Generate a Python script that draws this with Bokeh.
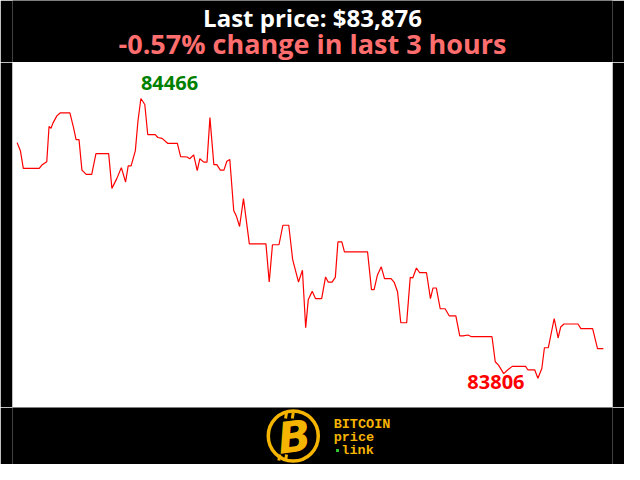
from bokeh.plotting import figure
from bokeh.layouts import column
from bokeh.models import Range1d, ColumnDataSource
from bokeh.core.properties import value
from bokeh.embed import file_html
from bokeh.resources import INLINE

# ---- data (minutes since start, BTC price in USD) ----
minutes = [0.0, 1.0, 1.9, 6.8, 7.6, 9.1, 9.8, 10.4, 11.0, 12.2, 13.2, 16.2, 17.3, 18.1, 19.0,
           19.9, 21.2, 22.9, 24.2, 28.1, 29.1, 30.6, 32.0, 33.3, 34.1, 35.0, 36.3, 37.1, 38.0,
           39.2, 40.1, 42.4, 43.2, 44.5, 46.3, 49.2, 50.2, 52.2, 53.0, 54.2, 55.3, 56.1, 57.3,
           58.3, 59.2, 60.4, 61.3, 62.4, 63.5, 64.4, 65.3, 66.5, 67.3, 68.3, 69.5, 71.3, 76.4,
           77.4, 78.4, 80.4, 81.6, 83.4, 84.6, 86.4, 87.6, 88.6, 89.4, 90.6, 91.6, 93.5, 94.7,
           95.5, 96.7, 97.7, 98.5, 99.7, 100.5, 107.6, 108.8, 109.6, 110.6, 111.8, 112.8, 114.8,
           115.8, 116.8, 117.8, 119.6, 120.7, 121.5, 122.6, 123.6, 125.7, 126.9, 127.7, 128.7,
           129.9, 131.4, 132.7, 134.7, 135.9, 136.9, 138.4, 139.5, 145.8, 146.8, 147.8, 149.4,
           150.5, 152.0, 156.1, 156.8, 158.9, 159.9, 161.1, 161.9, 163.1, 164.9, 166.1, 166.9,
           167.9, 172.2, 173.1, 176.7, 178.2, 180.0]
prices = [84362, 84343, 84301, 84301, 84309, 84317, 84400, 84396, 84408, 84425, 84432, 84432,
          84398, 84369, 84369, 84297, 84287, 84287, 84336, 84336, 84254, 84277, 84303, 84269,
          84307, 84307, 84343, 84413, 84466, 84452, 84381, 84381, 84374, 84372, 84360, 84360,
          84329, 84328, 84324, 84333, 84296, 84324, 84316, 84316, 84421, 84310, 84310, 84297,
          84297, 84318, 84322, 84202, 84189, 84164, 84230, 84123, 84123, 84033, 84121, 84121,
          84167, 84167, 84086, 84033, 84061, 83925, 83992, 84011, 83994, 83994, 84045, 84033,
          84033, 84044, 84128, 84128, 84104, 84104, 84015, 84015, 84049, 84069, 84041, 84041,
          84032, 84010, 83937, 83937, 84044, 84043, 84066, 84055, 84055, 83994, 84019, 84019,
          83970, 83970, 83953, 83953, 83906, 83906, 83908, 83904, 83904, 83845, 83837, 83817,
          83825, 83834, 83834, 83826, 83826, 83806, 83829, 83878, 83878, 83947, 83901, 83927,
          83934, 83934, 83923, 83923, 83876, 83876]
last_price_text = "Last price: $83,876"
change_text = "-0.57% change in last 3 hours"
max_label = "84466"
min_label = "83806"
logo_lines = ["BITCOIN", "price", "link"]

W = 624
H_TOP, H_MAIN, H_BOT = 62, 345, 57
YELLOW = "#f5b400"


def blank(h):
    f = figure(width=W, height=h, output_backend="svg", toolbar_location=None,
               x_axis_type=None, y_axis_type=None,
               x_range=Range1d(0, W), y_range=Range1d(h, 0),
               min_border=0, outline_line_color=None,
               background_fill_color="black", border_fill_color="black")
    f.grid.visible = False
    return f

# ---- header ----
top = blank(H_TOP)
top.text(x=[W / 2], y=[17], text=[last_price_text], text_align="center",
         text_baseline="alphabetic", text_color="white", text_font=value("Open Sans"),
         text_font_style="bold", text_font_size="24px")
top.text(x=[W / 2], y=[43], text=[change_text], text_align="center",
         text_baseline="alphabetic", text_color="#ff6e6e", text_font=value("Open Sans"),
         text_font_style="bold", text_font_size="27px")

# ---- main chart ----
p = figure(width=W, height=H_MAIN, output_backend="svg", toolbar_location=None,
           x_axis_type=None, y_axis_type=None,
           x_range=Range1d(-1.42, 182.8), y_range=Range1d(83737, 84551),
           min_border_left=12, min_border_right=12, min_border_top=0, min_border_bottom=0,
           background_fill_color="white", border_fill_color="black", outline_line_color=None)
p.grid.visible = False
src = ColumnDataSource(dict(t=minutes, price=prices))
p.line("t", "price", source=src, line_color="red", line_width=1.2)

imax = prices.index(max(prices))
imin = prices.index(min(prices))
p.text(x=[minutes[imax]], y=[max(prices)], text=[max_label], text_align="left",
       text_baseline="alphabetic", y_offset=-16, text_color="green",
       text_font=value("Open Sans"), text_font_style="bold", text_font_size="20px")
p.text(x=[minutes[imin]], y=[min(prices)], text=[min_label], text_align="center",
       text_baseline="alphabetic", x_offset=-42, y_offset=4, text_color="red",
       text_font=value("Open Sans"), text_font_style="bold", text_font_size="20px")

# ---- logo ----
bot = blank(H_BOT)
bot.circle(x=[292], y=[28.5], radius=26, fill_color="black", line_color=YELLOW, line_width=3.5)
bot.text(x=[293], y=[29.5], text=["B"], text_align="center", text_baseline="middle",
         text_color=YELLOW, text_font=value("DejaVu Sans"), text_font_style="bold italic",
         text_font_size="43px", angle=0.12)
bot.segment(x0=[285, 292, 278, 285], y0=[5, 5, 47, 47], x1=[284, 291, 277, 284],
            y1=[11, 11, 53, 53], line_color=YELLOW, line_width=3)
bot.text(x=[334, 334, 342], y=[17, 30, 43], text=logo_lines, text_align="left",
         text_baseline="middle", text_color=YELLOW, text_font=value("Liberation Mono"),
         text_font_style="bold", text_font_size="13.5px")
bot.rect(x=[338], y=[43], width=3, height=3, fill_color="#33cc33", line_color=None)

layout = column(top, p, bot, spacing=0)
open("out.html", "w").write(file_html(layout, INLINE))
